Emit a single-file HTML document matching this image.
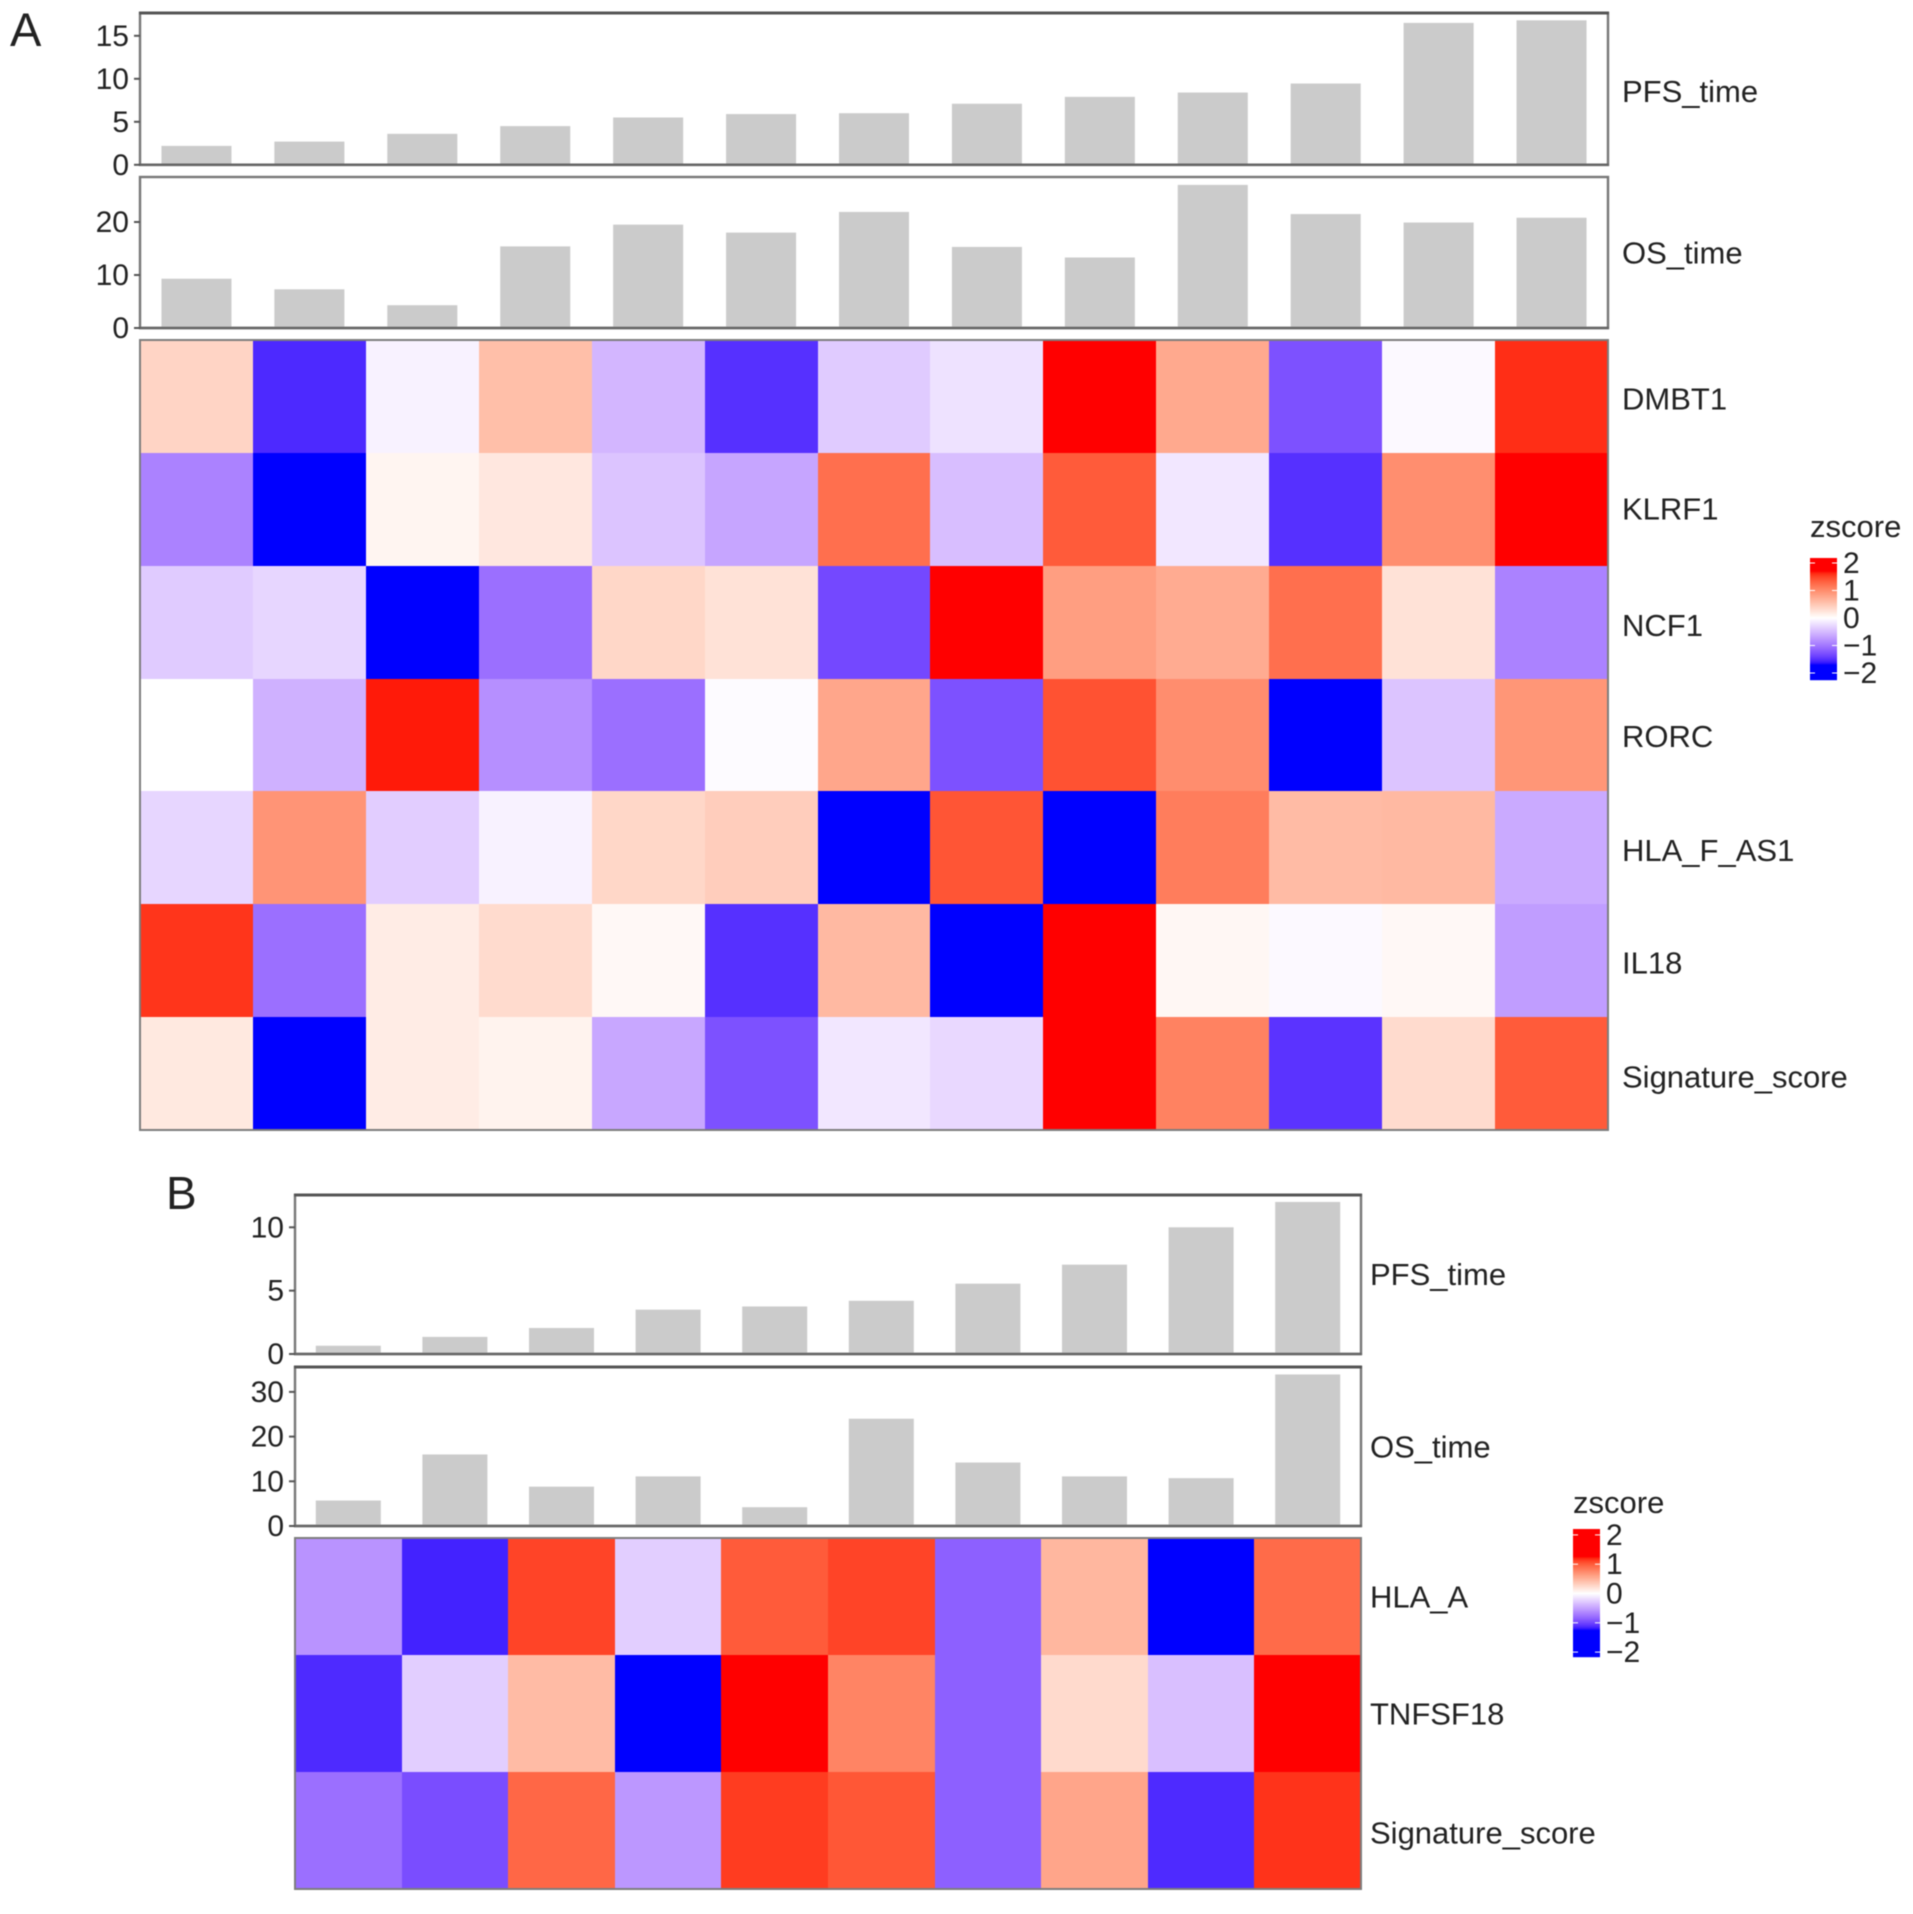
<!DOCTYPE html>
<html lang="en">
<head>
<meta charset="utf-8">
<title>Survival time bars and z-score heatmaps</title>
<style>
  html, body { margin: 0; padding: 0; background: #ffffff; }
  #figure { display: block; width: 1913px; height: 1914px; filter: blur(0.5px); }
  text { font-family: "Liberation Sans", Arial, sans-serif; fill: #222222; }
</style>
</head>
<body>
<svg id="figure" xmlns="http://www.w3.org/2000/svg" width="1913" height="1914" viewBox="0 0 1913 1914"></svg>
<script>
/* ---------- Panel A data ---------- */
const aPfsValues = [2.2, 2.7, 3.6, 4.5, 5.5, 5.9, 6.0, 7.1, 7.9, 8.4, 9.45, 16.5, 16.8];
const aOsValues = [9.3, 7.3, 4.3, 15.4, 19.5, 18.0, 21.9, 15.3, 13.3, 27.0, 21.5, 19.9, 20.8];
const aPfsTicks = [0, 5, 10, 15];
const aOsTicks = [0, 10, 20];
const aRowLabels = ["DMBT1", "KLRF1", "NCF1", "RORC", "HLA_F_AS1", "IL18", "Signature_score"];
const aDmbt1 = [0.38, -1.54, -0.09, 0.57, -0.53, -1.5, -0.38, -0.21, 2, 0.76, -1.28, -0.04, 1.6];
const aKlrf1 = [-0.92, -2, 0.09, 0.21, -0.43, -0.66, 1.22, -0.47, 1.36, -0.17, -1.5, 0.98, 2];
const aNcf1 = [-0.38, -0.30, -2, -1.06, 0.36, 0.26, -1.34, 2, 0.85, 0.74, 1.22, 0.26, -0.92];
const aRorc = [0, -0.57, 1.66, -0.82, -1.06, -0.03, 0.78, -1.28, 1.42, 0.99, -2, -0.43, 0.92];
const aHlaF = [-0.30, 0.93, -0.36, -0.09, 0.36, 0.44, -2, 1.4, -2, 1.12, 0.60, 0.62, -0.62];
const aIl18 = [1.57, -1.06, 0.17, 0.32, 0.06, -1.5, 0.62, -2, 2, 0.07, -0.04, 0.06, -0.72];
const aSignature = [0.20, -2, 0.17, 0.11, -0.64, -1.28, -0.17, -0.28, 2, 1.08, -1.48, 0.32, 1.36];
const aHeatRows = [aDmbt1, aKlrf1, aNcf1, aRorc, aHlaF, aIl18, aSignature];

/* ---------- Panel B data ---------- */
const bPfsValues = [0.65, 1.35, 2.05, 3.5, 3.75, 4.2, 5.55, 7.05, 10.0, 12.0];
const bOsValues = [5.7, 16.0, 8.8, 11.1, 4.2, 24.0, 14.2, 11.1, 10.7, 33.9];
const bPfsTicks = [0, 5, 10];
const bOsTicks = [0, 10, 20, 30];
const bRowLabels = ["HLA_A", "TNFSF18", "Signature_score"];
const bHlaA = [-0.58, -1.16, 1.1, -0.26, 1.0, 1.1, -0.86, 0.47, -2, 0.92];
const bTnfsf18 = [-1.13, -0.26, 0.44, -2, 2, 0.78, -0.86, 0.24, -0.34, 2];
const bSignature = [-0.78, -0.96, 0.94, -0.56, 1.13, 1.02, -0.86, 0.58, -1.13, 1.16];
const bHeatRows = [bHlaA, bTnfsf18, bSignature];

const legendTicks = [2, 1, 0, -1, -2];

/* ---------- Colour: Lab interpolation through white ---------- */
function toLab(rgb) {
  const l = rgb.map(function (v) { v /= 255; return v <= 0.04045 ? v / 12.92 : Math.pow((v + 0.055) / 1.055, 2.4); });
  const x = (0.4124 * l[0] + 0.3576 * l[1] + 0.1805 * l[2]) / 0.95047;
  const y = 0.2126 * l[0] + 0.7152 * l[1] + 0.0722 * l[2];
  const z = (0.0193 * l[0] + 0.1192 * l[1] + 0.9505 * l[2]) / 1.08883;
  const f = function (t) { return t > 0.008856 ? Math.cbrt(t) : 7.787 * t + 16 / 116; };
  return [116 * f(y) - 16, 500 * (f(x) - f(y)), 200 * (f(y) - f(z))];
}
function fromLab(lab) {
  const fy = (lab[0] + 16) / 116, fx = fy + lab[1] / 500, fz = fy - lab[2] / 200;
  const g = function (t) { return t * t * t > 0.008856 ? t * t * t : (t - 16 / 116) / 7.787; };
  const x = g(fx) * 0.95047, y = g(fy), z = g(fz) * 1.08883;
  const lin = [
    3.2406 * x - 1.5372 * y - 0.4986 * z,
    -0.9689 * x + 1.8758 * y + 0.0415 * z,
    0.0557 * x - 0.2040 * y + 1.0570 * z
  ];
  const out = lin.map(function (v) {
    v = Math.max(0, Math.min(1, v));
    v = v <= 0.0031308 ? 12.92 * v : 1.055 * Math.pow(v, 1 / 2.4) - 0.055;
    return Math.round(v * 255);
  });
  return "rgb(" + out.join(",") + ")";
}
const labWhite = toLab([255, 255, 255]);
const labRed = toLab([255, 0, 0]);
const labBlue = toLab([0, 0, 255]);
function zColour(z, limit) {
  const t = Math.max(-1, Math.min(1, z / limit));
  const end = t > 0 ? labRed : labBlue;
  const k = Math.abs(t);
  return fromLab(labWhite.map(function (w, i) { return w + (end[i] - w) * k; }));
}

/* ---------- Drawing helpers ---------- */
const figure = document.getElementById("figure");
const NS = "http://www.w3.org/2000/svg";
function addRect(x, y, w, h, fill, stroke, sw) {
  const el = document.createElementNS(NS, "rect");
  el.setAttribute("x", x);
  el.setAttribute("y", y);
  el.setAttribute("width", w);
  el.setAttribute("height", h);
  el.setAttribute("fill", fill);
  if (stroke) { el.setAttribute("stroke", stroke); el.setAttribute("stroke-width", sw); }
  figure.appendChild(el);
  return el;
}
function addLine(x1, y1, x2, y2, stroke, sw) {
  const el = document.createElementNS(NS, "line");
  el.setAttribute("x1", x1);
  el.setAttribute("y1", y1);
  el.setAttribute("x2", x2);
  el.setAttribute("y2", y2);
  el.setAttribute("stroke", stroke);
  el.setAttribute("stroke-width", sw);
  figure.appendChild(el);
  return el;
}
function addText(x, y, str, size, anchor) {
  const el = document.createElementNS(NS, "text");
  el.setAttribute("x", x);
  el.setAttribute("y", y);
  el.setAttribute("font-size", size);
  el.setAttribute("text-anchor", anchor || "start");
  el.textContent = str;
  figure.appendChild(el);
  return el;
}

function drawBarTrack(cfg, values, ticks, perUnit, label, prefix) {
  const n = values.length;
  const cell = (cfg.right - cfg.left) / n;
  const barW = cell * cfg.barFrac;
  const yScale = function (v) { return cfg.bottom - v * perUnit; };

  const frame = addRect(cfg.left, cfg.top, cfg.right - cfg.left, cfg.bottom - cfg.top, "#ffffff", "#777777", 2.4);
  
  

  values.forEach(function (v, i) {
    const x = cfg.left + cell * (i + 0.5) - barW / 2;
    const bar = addRect(x, yScale(v), barW, v * perUnit, "#cbcbcb");
    
    
  });

  const base = addLine(cfg.left - 1, cfg.bottom, cfg.right + 1, cfg.bottom, "#666666", 2.6);
  
  

  if (cfg.darkTop) {
    const topEdge = addLine(cfg.left - 1, cfg.top, cfg.right + 1, cfg.top, "#555555", 3);
    
    
  }

  ticks.forEach(function (t) {
    const y = yScale(t);
    const mark = addLine(cfg.left - 6, y, cfg.left, y, "#555555", 2);
    
    
    const lab = addText(cfg.left - 11, y + 10, String(t), 30, "end");
    
    
  });

  const title = addText(cfg.labelX, (cfg.top + cfg.bottom) / 2 + 11 + cfg.labelDy, label, 31);
  
  
}

function drawHeatmap(cfg, rows, rowLabels, limit, prefix) {
  const nRows = rows.length;
  const nCols = rows[0].length;
  const cw = (cfg.right - cfg.left) / nCols;
  const rh = (cfg.bottom - cfg.top) / nRows;
  rows.forEach(function (row, r) {
    row.forEach(function (z, c) {
      const x0 = Math.round(cfg.left + c * cw), x1 = Math.round(cfg.left + (c + 1) * cw);
      const y0 = Math.round(cfg.top + r * rh), y1 = Math.round(cfg.top + (r + 1) * rh);
      const cellEl = addRect(x0, y0, x1 - x0, y1 - y0, zColour(z, limit));
      cellEl.setAttribute("shape-rendering", "crispEdges");
      
      
    });
    const nudge = (cfg.nudge && cfg.nudge[rowLabels[r]]) || 0;
    const lab = addText(cfg.labelX, cfg.top + rh * (r + 0.5) + 11 + cfg.labelDy + nudge, rowLabels[r], 31);
    
    
  });
  const frame = addRect(cfg.left, cfg.top, cfg.right - cfg.left, cfg.bottom - cfg.top, "none", "#7d7d7d", 2);
  
  
}

function drawLegend(cfg, limit, prefix) {
  const title = addText(cfg.x, cfg.titleY, "zscore", 31);
  
  
  for (let y = cfg.top; y < cfg.bottom; y++) {
    const z = (cfg.zeroY - (y + 0.5)) / cfg.step;
    const strip = addRect(cfg.x, y, cfg.w, 1.2, zColour(z, limit));
    
    
  }
  legendTicks.forEach(function (t) {
    const y = cfg.zeroY - t * cfg.step;
    const left = addLine(cfg.x, y, cfg.x + 5, y, "#ffffff", 1);
    
    
    const right = addLine(cfg.x + cfg.w - 5, y, cfg.x + cfg.w, y, "#ffffff", 1);
    
    
    const lab = addText(cfg.x + cfg.w + 6, y + 10, t < 0 ? "\u2212" + Math.abs(t) : String(t), 30);
    
    
  });
}

/* ---------- Panel A ---------- */
const letterA = addText(10, 46, "A", 47);



drawBarTrack({ left: 140, right: 1608, top: 13, bottom: 164.8, barFrac: 0.62, labelX: 1622, labelDy: 2, darkTop: true },
  aPfsValues, aPfsTicks, 8.6, "PFS_time", "panel-a-pfs");
drawBarTrack({ left: 140, right: 1608, top: 177, bottom: 328, barFrac: 0.62, labelX: 1622, labelDy: 0 },
  aOsValues, aOsTicks, 5.3, "OS_time", "panel-a-os");
drawHeatmap({ left: 140, right: 1608, top: 340, bottom: 1130, labelX: 1622, labelDy: 2,
  nudge: { KLRF1: -3, NCF1: 1, RORC: -1, "Signature_score": 1 } },
  aHeatRows, aRowLabels, 1.7, "panel-a-heatmap");
drawLegend({ x: 1810, w: 27, top: 558, bottom: 680, zeroY: 618, step: 27.5, titleY: 537 }, 1.7, "panel-a-legend");

/* ---------- Panel B ---------- */
const letterB = addText(166, 1209, "B", 46);



drawBarTrack({ left: 295, right: 1361, top: 1195, bottom: 1354, barFrac: 0.61, labelX: 1370, labelDy: -0.5, darkTop: true },
  bPfsValues, bPfsTicks, 12.67, "PFS_time", "panel-b-pfs");
drawBarTrack({ left: 295, right: 1361, top: 1367, bottom: 1526, barFrac: 0.61, labelX: 1370, labelDy: 0, darkTop: true },
  bOsValues, bOsTicks, 4.47, "OS_time", "panel-b-os");
drawHeatmap({ left: 295, right: 1361, top: 1538, bottom: 1889, labelX: 1370, labelDy: 0,
  nudge: { "Signature_score": 2 } },
  bHeatRows, bRowLabels, 1.25, "panel-b-heatmap");
drawLegend({ x: 1573, w: 27, top: 1529, bottom: 1657, zeroY: 1593.5, step: 29.3, titleY: 1513 }, 1.25, "panel-b-legend");
</script>
</body>
</html>
